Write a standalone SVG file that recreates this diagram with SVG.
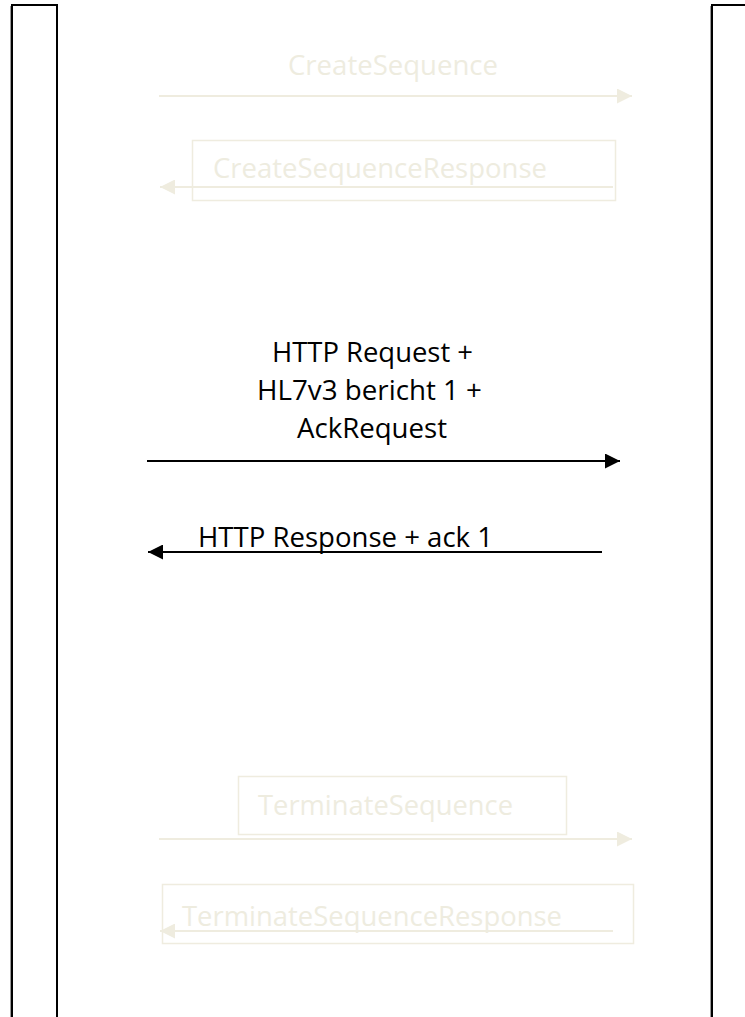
<svg xmlns="http://www.w3.org/2000/svg" width="745" height="1017" viewBox="0 0 745 1017">
  <defs>
    <style>
      .lifeline { fill: #ffffff; stroke: #000000; stroke-width: 2; }
      .edge { stroke: #9a9a9a; stroke-width: 1; }
      .msg { stroke: #000000; stroke-width: 2; fill: none; }
      .faint { stroke: #efecdf; stroke-width: 2; fill: none; }
      .faintbox { stroke: #efecdf; stroke-width: 1.5; fill: none; }
      .lbl { font-family: "Open Sans", "Noto Sans", "Liberation Sans", sans-serif; font-size: 27px; fill: #000000; text-anchor: middle; }
      .flbl { font-family: "Open Sans", "Noto Sans", "Liberation Sans", sans-serif; font-size: 27px; fill: #eeecdf; text-anchor: middle; }
    </style>
    <marker id="headBlack" viewBox="0 0 10 10" refX="10" refY="5" markerUnits="userSpaceOnUse" markerWidth="16" markerHeight="15" orient="auto">
      <path d="M0,0 L10,5 L0,10 Z" fill="#000000"/>
    </marker>
    <marker id="headFaint" viewBox="0 0 10 10" refX="10" refY="5" markerUnits="userSpaceOnUse" markerWidth="17" markerHeight="15" orient="auto">
      <path d="M0,0 L10,5 L0,10 Z" fill="#efecdf"/>
    </marker>
  </defs>

  <rect width="745" height="1017" fill="#ffffff"/>

  <!-- client lifeline -->
  <g id="client">
    <rect class="lifeline" x="12" y="5" width="45" height="1030"/>
    <line class="edge" x1="10.5" y1="6" x2="10.5" y2="1017"/>
  </g>

  <!-- server lifeline -->
  <g id="server">
    <rect class="lifeline" x="712" y="5" width="60" height="1030"/>
    <line class="edge" x1="710.5" y1="6" x2="710.5" y2="1017"/>
  </g>

  <!-- message arrows -->
  <g id="connectors">
    <line class="faint" x1="159" y1="96" x2="632" y2="96" marker-end="url(#headFaint)"/>
    <line class="faint" x1="613" y1="187" x2="160" y2="187" marker-end="url(#headFaint)"/>
    <line class="msg" x1="147" y1="461" x2="620" y2="461" marker-end="url(#headBlack)"/>
    <line class="msg" x1="602" y1="552" x2="148" y2="552" marker-end="url(#headBlack)"/>
    <line class="faint" x1="159" y1="839" x2="632" y2="839" marker-end="url(#headFaint)"/>
    <line class="faint" x1="613" y1="931" x2="160" y2="931" marker-end="url(#headFaint)"/>
  </g>

  <!-- message labels -->
  <g id="createSequence">
    <text class="flbl" x="393" y="75" textLength="210" lengthAdjust="spacingAndGlyphs">CreateSequence</text>
  </g>

  <g id="createSequenceResponse">
    <rect class="faintbox" x="192.5" y="140.5" width="423" height="60"/>
    <text class="flbl" x="380" y="178" textLength="334" lengthAdjust="spacingAndGlyphs">CreateSequenceResponse</text>
  </g>

  <g id="httpRequest">
    <text class="lbl" x="372.5" y="362" textLength="201" lengthAdjust="spacingAndGlyphs">HTTP Request +</text>
    <text class="lbl" x="369.5" y="400" textLength="225" lengthAdjust="spacingAndGlyphs">HL7v3 bericht 1 +</text>
    <text class="lbl" x="372" y="438" textLength="150" lengthAdjust="spacingAndGlyphs">AckRequest</text>
  </g>

  <g id="httpResponse">
    <text class="lbl" x="345.5" y="547" textLength="295" lengthAdjust="spacingAndGlyphs">HTTP Response + ack 1</text>
  </g>

  <g id="terminateSequence">
    <rect class="faintbox" x="238.5" y="776.5" width="328" height="58"/>
    <text class="flbl" x="385.5" y="815" textLength="255" lengthAdjust="spacingAndGlyphs">TerminateSequence</text>
  </g>

  <g id="terminateSequenceResponse">
    <rect class="faintbox" x="162.5" y="884.5" width="471" height="59"/>
    <text class="flbl" x="372" y="926" textLength="380" lengthAdjust="spacingAndGlyphs">TerminateSequenceResponse</text>
  </g>
</svg>
